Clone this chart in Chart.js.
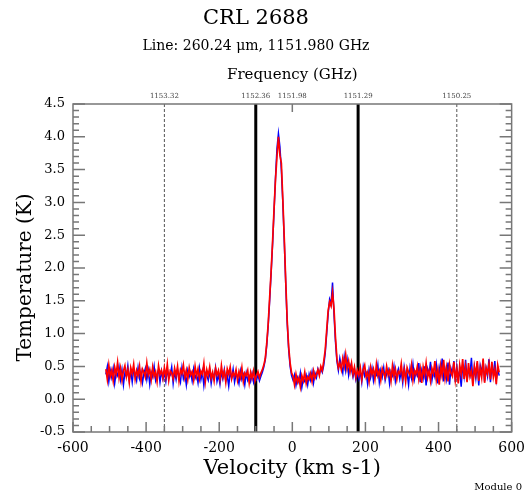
<!DOCTYPE html>
<html>
<head>
<meta charset="utf-8">
<script src="https://cdn.jsdelivr.net/npm/chart.js@4"></script>
<style>
  body { margin: 0; background: #fff; }
  #wrap { position: relative; width: 525px; height: 494px; }
</style>
</head>
<body>
<div id="wrap"><canvas id="spectrum-chart" width="525" height="494"></canvas></div>
<script>
// channel grid of the spectrum (km/s)
const velStart = -510;
const velStep = 4;

// red scan, split by region of the spectrum
const redBaseLeft = [
  0.46,0.30,0.52,0.35,0.44,0.28,0.49,0.38,0.56,0.33,
  0.47,0.29,0.43,0.51,0.34,0.45,0.26,0.48,0.39,0.53,
  0.31,0.44,0.36,0.50,0.28,0.46,0.41,0.33,0.55,0.37,
  0.45,0.30,0.49,0.35,0.42,0.27,0.51,0.38,0.44,0.32,
  0.48,0.34,0.53,0.29,0.43,0.40,0.31,0.47,0.36,0.50,
  0.28,0.45,0.39,0.52,0.33,0.44,0.30,0.48,0.37,0.42,
  0.29,0.50,0.35,0.46,0.31,0.43,0.38,0.54,0.27,0.45,
  0.36,0.49,0.32,0.41,0.28,0.47,0.37,0.44,0.30,0.51,
  0.34,0.43,0.26,0.46,0.38,0.49,0.31,0.40,0.35,0.45,
  0.29,0.42,0.33,0.48,0.27,0.40,0.36,0.44,0.25,0.41,
  0.32,0.43,0.28
];
const redPeakMain = [
  0.36,0.42,0.33,0.40,0.45,0.52,0.62,0.85,1.15,1.55,1.95,2.40,2.90,
  3.35,3.70,4.00,3.72,3.60,3.05,2.45,1.80,1.20,0.80,0.55,0.40
];
const redDip = [
  0.35,0.22,0.38,0.26,0.33,0.19,0.36,0.28,0.41,0.24,0.34,
  0.30,0.39,0.27,0.43,0.32,0.38,0.45,0.36,0.50,0.44
];
const redPeakSecond = [0.58,0.75,1.05,1.35,1.48,1.42,1.62,1.38,0.95,0.62,0.48,0.55];
const redBump = [0.45,0.62,0.50,0.68,0.47,0.58,0.42,0.55,0.38,0.49,0.33,0.44];
const redBaseRight = [
  0.36,0.48,0.30,0.45,0.52,0.34,0.41,0.27,0.49,0.38,
  0.46,0.31,0.53,0.36,0.43,0.29,0.47,0.40,0.33,0.50,
  0.37,0.44,0.28,0.51,0.35,0.46,0.30,0.42,0.39,0.54,
  0.32,0.45,0.27,0.48,0.41,0.36,0.52,0.29,0.44,0.38,
  0.50,0.31,0.46,0.25,0.49,0.37,0.55,0.33,0.43,0.28,
  0.47,0.39,0.58,0.30,0.45,0.22,0.51,0.36,0.60,0.32,
  0.48,0.27,0.53,0.40,0.35,0.57,0.29,0.46,0.24,0.52,
  0.38,0.61,0.31,0.49,0.26,0.55,0.35,0.44,0.20,0.50,
  0.37,0.58,0.28,0.47,0.33,0.62,0.25,0.48,0.39,0.54,
  0.30,0.57,0.34,0.46,0.23,0.52,0.41
];

// blue scan
const blueBaseLeft = [
  0.38,0.50,0.27,0.44,0.33,0.47,0.24,0.41,0.36,0.49,
  0.30,0.45,0.22,0.40,0.35,0.51,0.29,0.43,0.26,0.46,
  0.37,0.28,0.48,0.32,0.42,0.25,0.39,0.47,0.30,0.44,
  0.23,0.41,0.34,0.50,0.29,0.38,0.45,0.26,0.43,0.31,
  0.40,0.27,0.46,0.33,0.37,0.49,0.24,0.42,0.30,0.45,
  0.35,0.26,0.48,0.31,0.39,0.22,0.44,0.34,0.41,0.28,
  0.46,0.32,0.38,0.25,0.47,0.30,0.42,0.21,0.40,0.36,
  0.29,0.44,0.24,0.39,0.33,0.48,0.27,0.37,0.23,0.42,
  0.31,0.45,0.28,0.36,0.20,0.41,0.33,0.46,0.26,0.38,
  0.34,0.24,0.43,0.30,0.37,0.22,0.40,0.29,0.35,0.27,
  0.39,0.26,0.36
];
const bluePeakMain = [
  0.30,0.37,0.28,0.35,0.41,0.49,0.60,0.82,1.12,1.50,1.92,2.36,2.86,
  3.38,3.82,4.05,3.85,3.50,3.00,2.40,1.76,1.16,0.76,0.50,0.36
];
const blueDip = [
  0.29,0.37,0.21,0.33,0.26,0.40,0.18,0.31,0.27,0.36,0.22,
  0.38,0.29,0.42,0.25,0.40,0.33,0.46,0.39,0.47,0.41
];
const bluePeakSecond = [0.52,0.70,1.00,1.30,1.52,1.45,1.78,1.30,0.88,0.58,0.44,0.62];
const blueBump = [0.50,0.40,0.64,0.44,0.60,0.37,0.52,0.45,0.34,0.46,0.30,0.40];
const blueBaseRight = [
  0.31,0.42,0.26,0.49,0.35,0.40,0.23,0.45,0.33,0.47,
  0.28,0.41,0.37,0.52,0.26,0.44,0.34,0.48,0.29,0.39,
  0.45,0.24,0.42,0.36,0.50,0.27,0.38,0.46,0.31,0.43,
  0.25,0.49,0.35,0.40,0.22,0.47,0.33,0.53,0.30,0.41,
  0.36,0.55,0.26,0.44,0.32,0.50,0.21,0.46,0.38,0.57,
  0.29,0.43,0.34,0.52,0.24,0.48,0.36,0.62,0.27,0.45,
  0.31,0.56,0.22,0.47,0.39,0.58,0.26,0.50,0.33,0.44,
  0.19,0.53,0.35,0.60,0.28,0.46,0.37,0.63,0.24,0.49,
  0.32,0.55,0.21,0.51,0.40,0.59,0.27,0.47,0.35,0.61,
  0.26,0.50,0.38,0.58,0.30,0.45,0.36
];

// markers: top axis frequencies and where they sit in velocity
const freqVel = [-350, -100, 0, 180, 450];
const freqLabels = ["1153.32", "1152.36", "1151.98", "1151.29", "1150.25"];
const dashedVel = [-350, 450];
const solidVel = [-100, 180];
const lineCentreVel = 0;

const serif = "'DejaVu Serif', 'Liberation Serif', serif";
const clear = "rgba(0,0,0,0)";

const toPoints = (vals) => vals.map((t, i) => ({ x: velStart + velStep * i, y: t }));
const redData = toPoints([].concat(redBaseLeft, redPeakMain, redDip, redPeakSecond, redBump, redBaseRight));
const blueData = toPoints([].concat(blueBaseLeft, bluePeakMain, blueDip, bluePeakSecond, blueBump, blueBaseRight));

const vline = (v, style) => Object.assign({
  data: [{ x: v, y: -0.5 }, { x: v, y: 4.5 }],
  pointRadius: 0,
  order: 3,
}, style);

const datasets = [
  { label: "red", data: redData, borderColor: "#ff0000", borderWidth: 1.7, pointRadius: 0, order: 0 },
  { label: "blue", data: blueData, borderColor: "#0000ff", borderWidth: 1.5, pointRadius: 0, order: 1 },
];
dashedVel.forEach((v) => datasets.push(vline(v, { borderColor: "#555", borderWidth: 1, borderDash: [3, 2] })));
solidVel.forEach((v) => datasets.push(vline(v, { borderColor: "#000", borderWidth: 3 })));

// inward ticks, frame and the footer note
const frameTicks = {
  id: "frameTicks",
  afterDatasetsDraw(chart) {
    const { ctx, chartArea: a, scales: { x, y } } = chart;
    ctx.save();
    ctx.strokeStyle = "#777";
    ctx.lineWidth = 1.5;
    ctx.strokeRect(a.left, a.top, a.width, a.height);
    ctx.beginPath();
    for (let v = -600; v <= 600; v += 50) {
      const px = x.getPixelForValue(v);
      const len = v % 200 === 0 ? 10 : 6;
      ctx.moveTo(px, a.bottom);
      ctx.lineTo(px, a.bottom - len);
    }
    for (let i = -5; i <= 45; i++) {
      const py = y.getPixelForValue(i / 10);
      const len = i % 5 === 0 ? 12 : 6;
      ctx.moveTo(a.left, py);
      ctx.lineTo(a.left + len, py);
      ctx.moveTo(a.right, py);
      ctx.lineTo(a.right - len, py);
    }
    const p0 = x.getPixelForValue(lineCentreVel);
    ctx.moveTo(p0, a.top);
    ctx.lineTo(p0, a.top + 8);
    ctx.stroke();
    ctx.font = "10px " + serif;
    ctx.fillStyle = "#000";
    ctx.textAlign = "right";
    ctx.textBaseline = "middle";
    ctx.fillText("Module 0", chart.width - 3, chart.height - 7);
    ctx.restore();
  },
};

new Chart(document.getElementById("spectrum-chart"), {
  type: "line",
  data: { datasets },
  plugins: [frameTicks],
  options: {
    responsive: false,
    animation: false,
    parsing: false,
    normalized: true,
    layout: { padding: { left: 0, right: 13, top: 0, bottom: 0 } },
    plugins: {
      legend: { display: false },
      tooltip: { enabled: false },
      title: {
        display: true,
        text: "CRL 2688",
        color: "#000",
        font: { family: serif, size: 21, weight: "normal", lineHeight: 1.2 },
        padding: { top: 6, bottom: 2 },
      },
      subtitle: {
        display: true,
        text: "Line: 260.24 \u03bcm, 1151.980 GHz",
        color: "#000",
        font: { family: serif, size: 14, weight: "normal", lineHeight: 1.2 },
        padding: { top: 5, bottom: 1 },
      },
    },
    scales: {
      x: {
        type: "linear",
        position: "bottom",
        min: -600,
        max: 600,
        grid: { display: true, drawOnChartArea: false, drawTicks: true, tickLength: 8, color: clear },
        border: { display: false },
        ticks: { stepSize: 200, color: "#000", padding: 0, maxRotation: 0, font: { family: serif, size: 14 } },
        title: {
          display: true,
          text: "Velocity (km s-1)",
          color: "#000",
          font: { family: serif, size: 21, lineHeight: 1.2 },
          padding: { top: 0, bottom: 13 },
        },
        afterFit: (s) => { s.height = 62; },
      },
      x2: {
        type: "linear",
        position: "top",
        min: -600,
        max: 600,
        grid: { display: false, drawTicks: false },
        border: { display: false },
        afterBuildTicks: (s) => { s.ticks = freqVel.map((v) => ({ value: v })); },
        ticks: {
          autoSkip: false,
          maxRotation: 0,
          color: "#444",
          padding: 4,
          font: { family: serif, size: 7 },
          callback: (v, i) => freqLabels[i],
        },
        title: {
          display: true,
          text: "Frequency (GHz)",
          color: "#000",
          font: { family: serif, size: 15, lineHeight: 1.2 },
          padding: { top: 10, bottom: 0 },
        },
        afterFit: (s) => { s.height = 48; },
      },
      y: {
        type: "linear",
        min: -0.5,
        max: 4.5,
        grid: { display: false, drawTicks: false },
        border: { display: false },
        ticks: {
          stepSize: 0.5,
          color: "#000",
          padding: 8,
          font: { family: serif, size: 13 },
          callback: (v) => v.toFixed(1),
        },
        title: {
          display: true,
          text: "Temperature (K)   ",
          color: "#000",
          font: { family: serif, size: 20, lineHeight: 1.2 },
          padding: { top: 14, bottom: 0 },
        },
        afterFit: (s) => { s.width = 73; },
      },
    },
  },
});
</script>
</body>
</html>
